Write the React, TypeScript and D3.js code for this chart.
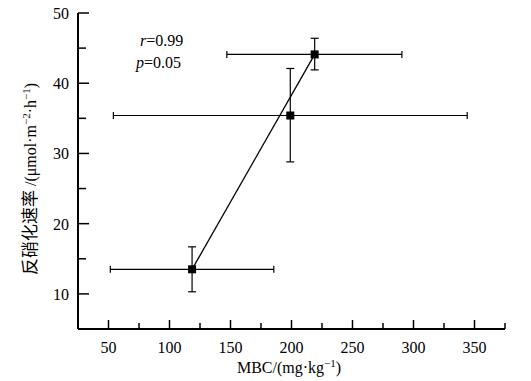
import React from "react";
import * as d3 from "d3";

const mbc = [118.5, 199, 219];
const mbcLow = [51.5, 54, 147];
const mbcHigh = [185.5, 344, 290.5];
const rate = [13.5, 35.4, 44.1];
const rateLow = [10.3, 28.8, 41.9];
const rateHigh = [16.7, 42.1, 46.4];
const xMajor = [50, 100, 150, 200, 250, 300, 350];
const xMinor = [75, 125, 175, 225, 275, 325, 375];
const yMajor = [10, 20, 30, 40, 50];
const yMinor = [15, 25, 35, 45];

const W = 531, H = 381;
const x = d3.scaleLinear().domain([25, 375]).range([78, 505]);
const y = d3.scaleLinear().domain([5, 50]).range([329, 13]);
const serif = "'Liberation Serif', 'Times New Roman', serif";

export default function App() {
  const fitLine = d3.line<number>().x((i) => x(mbc[i])).y((i) => y(rate[i]));
  return (
    <svg width={W} height={H} style={{ position: "absolute", left: 0, top: 0, background: "#fff" }}>
      <rect width={W} height={H} fill="#fff" />
      {/* axes */}
      <line x1={x(25)} x2={x(375)} y1={y(5)} y2={y(5)} stroke="#000" strokeWidth={2} />
      <line x1={x(25)} x2={x(25)} y1={y(5)} y2={y(50)} stroke="#000" strokeWidth={2} />
      {xMajor.map((v) => (
        <g key={"xm" + v}>
          <line x1={x(v)} x2={x(v)} y1={y(5)} y2={y(5) - 9} stroke="#000" strokeWidth={1.5} />
          <text x={x(v)} y={353} textAnchor="middle" fontFamily={serif} fontSize={16}>{v}</text>
        </g>
      ))}
      {xMinor.map((v) => (
        <line key={"xn" + v} x1={x(v)} x2={x(v)} y1={y(5)} y2={y(5) - 6} stroke="#000" strokeWidth={1.5} />
      ))}
      {yMajor.map((v) => (
        <g key={"ym" + v}>
          <line x1={x(25)} x2={x(25) + 11} y1={y(v)} y2={y(v)} stroke="#000" strokeWidth={1.5} />
          <text x={69} y={y(v) + 6} textAnchor="end" fontFamily={serif} fontSize={16}>{v}</text>
        </g>
      ))}
      {yMinor.map((v) => (
        <line key={"yn" + v} x1={x(25)} x2={x(25) + 8} y1={y(v)} y2={y(v)} stroke="#000" strokeWidth={1.5} />
      ))}
      {/* axis labels */}
      <text x={289} y={373} textAnchor="middle" fontFamily={serif} fontSize={16}>
        MBC/(mg·kg<tspan dy={-6} fontSize={11}>−1</tspan><tspan dy={6}>)</tspan>
      </text>
      <text transform="translate(36,179) rotate(-90)" textAnchor="middle" fontFamily={serif} fontSize={16}>
        <tspan fontFamily="'Noto Sans CJK SC', sans-serif" fontSize={17}>反硝化速率</tspan> /(μmol·m<tspan dy={-6} fontSize={11}>−2</tspan><tspan dy={6}>·h</tspan><tspan dy={-6} fontSize={11}>−1</tspan><tspan dy={6}>)</tspan>
      </text>
      {/* stats */}
      <text x={140} y={46} fontFamily={serif} fontSize={16}>
        <tspan fontStyle="italic">r</tspan>=0.99
      </text>
      <text x={136} y={68} fontFamily={serif} fontSize={16}>
        <tspan fontStyle="italic">p</tspan>=0.05
      </text>
      {/* fit line */}
      <path d={fitLine([0, 2]) || ""} fill="none" stroke="#000" strokeWidth={1.3} />
      {/* error bars & points */}
      {mbc.map((v, i) => (
        <g key={"p" + i}>
          <line x1={x(mbcLow[i])} x2={x(mbcHigh[i])} y1={y(rate[i])} y2={y(rate[i])} stroke="#000" strokeWidth={1.2} />
          <line x1={x(mbcLow[i])} x2={x(mbcLow[i])} y1={y(rate[i]) - 3.5} y2={y(rate[i]) + 3.5} stroke="#000" strokeWidth={1.2} />
          <line x1={x(mbcHigh[i])} x2={x(mbcHigh[i])} y1={y(rate[i]) - 3.5} y2={y(rate[i]) + 3.5} stroke="#000" strokeWidth={1.2} />
          <line x1={x(v)} x2={x(v)} y1={y(rateLow[i])} y2={y(rateHigh[i])} stroke="#000" strokeWidth={1.2} />
          <line x1={x(v) - 4} x2={x(v) + 4} y1={y(rateLow[i])} y2={y(rateLow[i])} stroke="#000" strokeWidth={1.2} />
          <line x1={x(v) - 4} x2={x(v) + 4} y1={y(rateHigh[i])} y2={y(rateHigh[i])} stroke="#000" strokeWidth={1.2} />
          <rect x={x(v) - 4} y={y(rate[i]) - 4} width={8} height={8} fill="#000" />
        </g>
      ))}
    </svg>
  );
}
